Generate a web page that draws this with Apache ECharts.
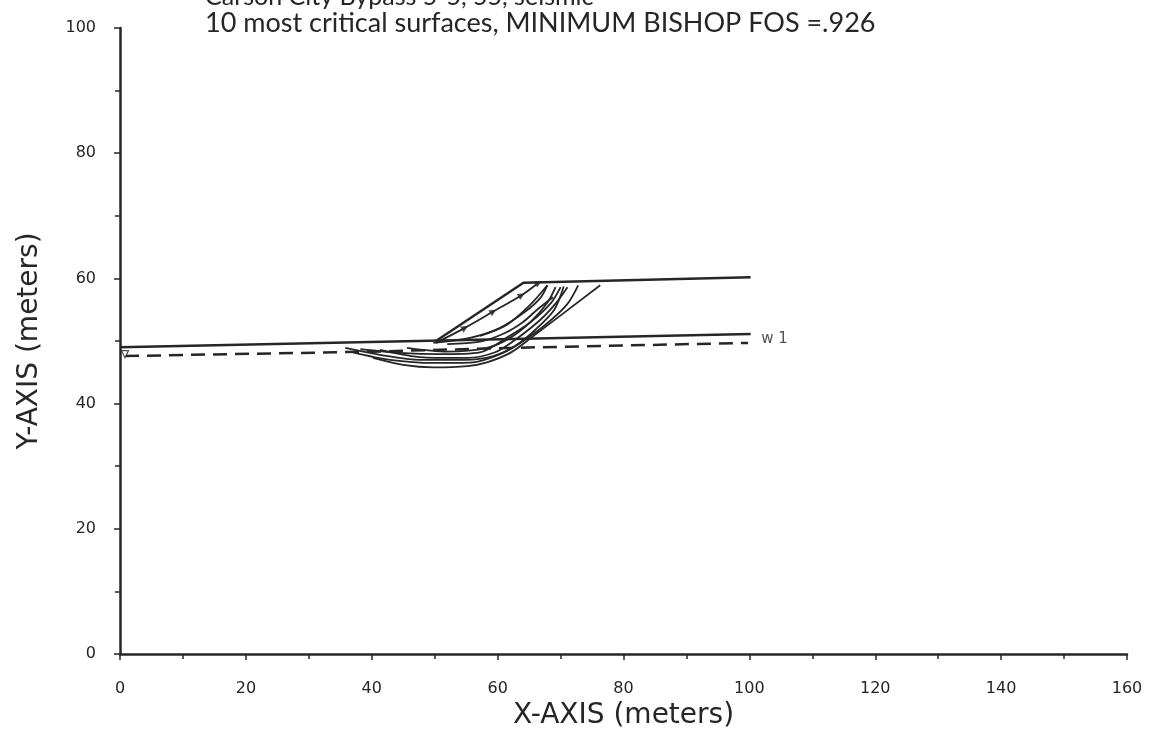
<!DOCTYPE html>
<html>
<head>
<meta charset="utf-8">
<script src="https://cdn.jsdelivr.net/npm/echarts@6/dist/echarts.min.js"></script>
<style>html,body{margin:0;padding:0;background:#fff}#c{width:1156px;height:735px}</style>
</head>
<body>
<div id="c"></div>
<script>
// ---- data (meters) ----
const titleTop = "Carson City Bypass 5-5, 55, seismic";
const titleMain = "10 most critical surfaces, MINIMUM BISHOP FOS =.926";
const xName = "X-AXIS (meters)";
const yName = "Y-AXIS (meters)";

const groundLine = [[0,49.0],[100.2,51.1]];
const slopeProfile = [[50.2,50.0],[64.1,59.3],[100.2,60.2]];
const waterLine = [[0.8,47.6],[40,48.3],[62,48.9],[99.8,49.7]];
const waterLabel = "w 1";
const waterLabelAt = [104,50.3];

const surface1 = [[40.2,47.3],[45.0,46.2],[49.8,45.8],[55.2,46.0],[58.3,46.6],[62.0,48.1],[65.3,50.5],[76.3,58.9]];
const surface2 = [[37.0,48.2],[42.9,47.0],[49.8,46.5],[56.1,46.6],[60.4,47.9],[63.6,49.7],[67.6,52.6],[71.0,55.8],[72.8,58.9]];
const surface3 = [[41.3,48.6],[48.2,47.4],[55.2,47.3],[59.6,48.2],[62.8,50.2],[66.8,53.4],[69.3,56.1],[71.1,58.6]];
const surface4 = [[45.6,48.9],[52.0,48.3],[58.3,48.9],[62.0,50.5],[65.2,53.0],[67.9,56.1],[69.2,58.6]];
const surface5 = [[49.8,49.7],[55.6,50.5],[60.4,52.1],[64.4,54.7],[66.8,56.9],[67.9,58.9]];
const surface6 = [[38.2,48.7],[44.5,48.1],[50.9,47.9],[57.2,48.2],[61.4,50.5],[65.2,53.0],[68.5,56.1],[70.0,58.6]];
const surface7 = [[50.2,49.7],[54.8,52.1],[59.3,54.7],[63.8,57.3],[66.5,59.3]];
const surface8 = [[57.2,50.8],[61.5,52.6],[65.2,55.8],[67.9,58.9]];
const surface9 = [[35.8,48.9],[41.3,47.8],[47.7,47.0],[54.8,47.0],[59.3,47.6],[62.8,49.2],[66.0,51.8],[69.0,55.0],[70.5,58.7]];
const surface10 = [[52.0,49.5],[57.2,49.9],[61.0,51.2],[64.0,53.0],[66.5,55.2],[68.8,57.0]];
const surfaces = [surface1,surface2,surface3,surface4,surface5,surface6,surface7,surface8,surface9,surface10];

const surfaceMarkers = [[54.8,52.1],[59.3,54.7],[63.8,57.3],[66.5,59.3]];
const waterMarker = [[0.8,47.9]];

// ---- chart ----
const ink = '#262626';
const font = 'DejaVu Sans';
const chart = echarts.init(document.getElementById('c'), null, {renderer:'canvas'});

const series = [];
series.push({type:'line', data:groundLine, symbol:'none', lineStyle:{color:ink,width:2.5}, z:3});
series.push({type:'line', data:slopeProfile, symbol:'none', lineStyle:{color:ink,width:2.5}, z:3});
series.push({type:'line', data:waterLine, symbol:'none', lineStyle:{color:ink,width:2.5,type:[14,8]}, z:3});
surfaces.forEach(s=>series.push({type:'line', data:s, smooth:0.3, symbol:'none', lineStyle:{color:ink,width:1.8}, z:2}));
series.push({type:'scatter', data:surfaceMarkers, symbol:'triangle', symbolSize:7, symbolRotate:-60, itemStyle:{color:ink}, z:4});
series.push({type:'scatter', data:waterMarker, symbol:'triangle', symbolSize:7, symbolRotate:180, itemStyle:{color:'#fff',borderColor:ink,borderWidth:1.2}, z:4});
series.push({type:'scatter', data:[waterLabelAt], symbol:'circle', symbolSize:1, itemStyle:{color:'rgba(0,0,0,0)'},
  label:{show:true, formatter:waterLabel, position:'inside', color:ink, fontSize:15, fontFamily:font}, z:4});

chart.setOption({
  animation:false,
  backgroundColor:'#fff',
  grid:{left:120, right:29, top:28, bottom:81},
  graphic:[
    {type:'text', left:205, top:-16, style:{text:titleTop, fill:ink, font:'25px Lato'}},
    {type:'text', left:205, top:10, style:{text:titleMain, fill:ink, font:'27px Lato'}}
  ],
  xAxis:{
    type:'value', min:0, max:160, interval:20,
    name:xName, nameLocation:'middle', nameGap:42,
    nameTextStyle:{color:ink, fontSize:28, fontFamily:font},
    axisLine:{show:true, onZero:false, lineStyle:{color:ink,width:2.5}},
    axisTick:{show:true, length:6, lineStyle:{color:ink,width:1.5}},
    minorTick:{show:true, splitNumber:2, length:5, lineStyle:{color:ink,width:1.5}},
    axisLabel:{color:ink, fontSize:16, fontFamily:font, margin:27},
    splitLine:{show:false}
  },
  yAxis:{
    type:'value', min:0, max:100, interval:20,
    name:yName, nameLocation:'middle', nameGap:76,
    nameTextStyle:{color:ink, fontSize:28, fontFamily:font},
    axisLine:{show:true, onZero:false, lineStyle:{color:ink,width:2.5}},
    axisTick:{show:true, length:6, lineStyle:{color:ink,width:1.5}},
    minorTick:{show:true, splitNumber:2, length:5, lineStyle:{color:ink,width:1.5}},
    axisLabel:{color:ink, fontSize:16, fontFamily:font, margin:24},
    splitLine:{show:false}
  },
  series:series
});
</script>
</body>
</html>
